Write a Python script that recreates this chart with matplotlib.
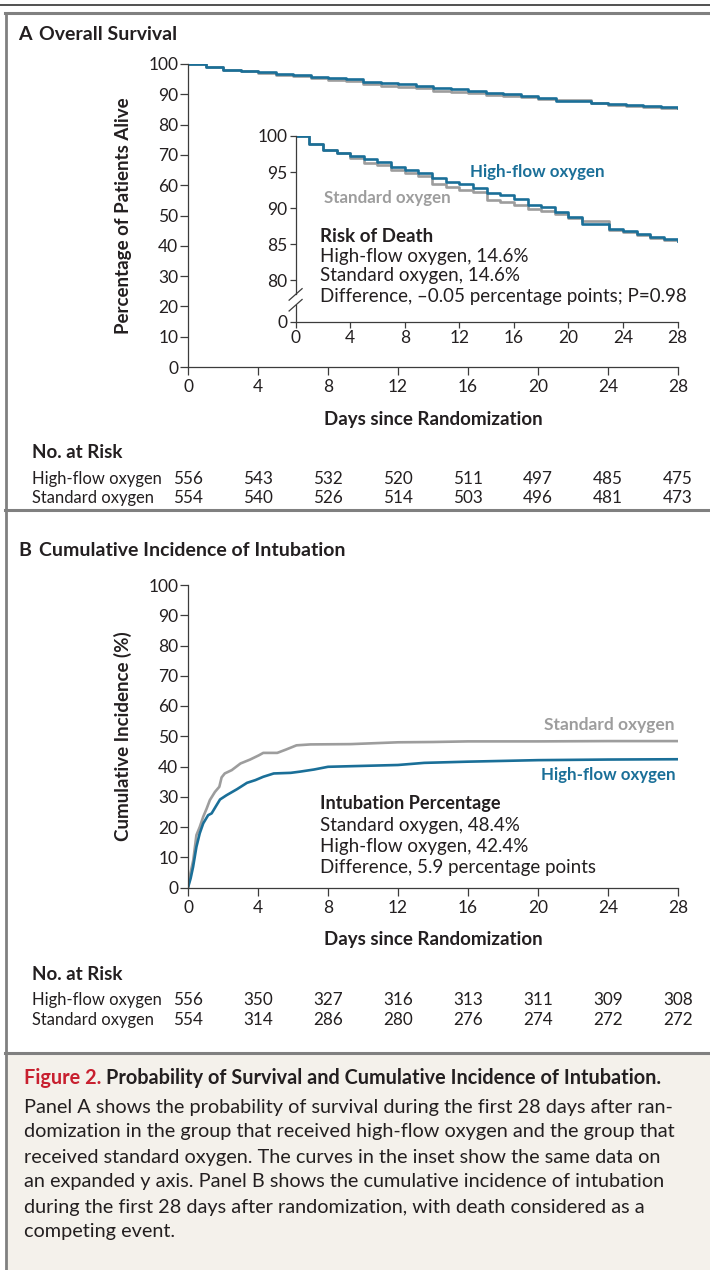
import numpy as np
import matplotlib.pyplot as plt
import matplotlib.transforms as mtransforms
from matplotlib.lines import Line2D
from matplotlib.patches import Rectangle

plt.rcParams['font.family'] = ['Lato', 'DejaVu Sans']

W, H = 710, 1270
BLUE = '#1a6f98'
GRAY = '#9d9d9d'
INK = '#231f20'
AXC = '#3c3c3c'
RED = '#c8202f'
BEIGE = '#f4f1eb'
FRAME = '#808080'

# Panel A: percentage alive, one value per day (step after the day)
days = np.arange(0, 29)
surv_high = [100, 98.9, 98.1, 97.7, 97.2, 96.8, 96.4, 95.7, 95.3, 94.9, 94.2, 93.6, 93.3, 92.8, 92.1,
             91.8, 91.2, 90.4, 90.1, 89.5, 88.8, 87.8, 87.8, 87.1, 86.8, 86.4, 86.0, 85.7, 85.4]
surv_std = [100, 98.9, 98.1, 97.6, 96.9, 96.3, 96.0, 95.3, 94.8, 94.4, 93.3, 92.9, 92.5, 92.2, 91.1,
            90.8, 90.4, 89.9, 89.6, 89.2, 88.6, 88.2, 88.2, 87.0, 86.6, 86.2, 85.8, 85.6, 85.4]

# Panel B: cumulative incidence of intubation (%)
t_std = [0, 0.15, 0.3, 0.48, 0.67, 0.87, 1.06, 1.25, 1.54, 1.79, 1.92, 2.1, 2.5, 3.0, 3.55, 4.05,
         4.3, 5.1, 5.6, 6.2, 7.0, 9.3, 12, 14, 16, 20, 24, 28]
ci_std = [0, 5, 9, 17.3, 20, 23.4, 26, 28.9, 31.6, 33.3, 36.4, 37.7, 38.8, 41, 42.3, 43.7,
          44.5, 44.5, 45.6, 47, 47.3, 47.4, 48.0, 48.1, 48.3, 48.3, 48.4, 48.4]
t_high = [0, 0.15, 0.29, 0.48, 0.67, 0.87, 1.15, 1.35, 1.63, 1.83, 2.2, 2.8, 3.37, 3.85, 4.3,
          4.9, 5.87, 6.4, 7.2, 8.0, 9.3, 12, 13.5, 16, 20, 24, 28]
ci_high = [0, 3, 6.8, 13.4, 17.9, 21.2, 23.9, 24.5, 27.2, 29.1, 30.5, 32.5, 34.6, 35.5, 36.6,
           37.7, 37.9, 38.3, 39.0, 39.9, 40.1, 40.5, 41.2, 41.6, 42.1, 42.3, 42.4]

# Numbers at risk
risk_days = [0, 4, 8, 12, 16, 20, 24, 28]
risk_a_high = [556, 543, 532, 520, 511, 497, 485, 475]
risk_a_std = [554, 540, 526, 514, 503, 496, 481, 473]
risk_b_high = [556, 350, 327, 316, 313, 311, 309, 308]
risk_b_std = [554, 314, 286, 280, 276, 274, 272, 272]
groups = ['High-flow oxygen', 'Standard oxygen']

caption_lines = [
    'Panel A shows the probability of survival during the first 28 days after ran-',
    'domization in the group that received high-flow oxygen and the group that',
    'received standard oxygen. The curves in the inset show the same data on',
    'an expanded y axis. Panel B shows the cumulative incidence of intubation',
    'during the first 28 days after randomization, with death considered as a',
    'competing event.',
]

FS_TICK = 12.5
FS_LAB = 13.5
FS_NOTE = 13.5
FS_SERIES = 12.2
FS_TAB = 11.9
FS_CAP = 14.3


def fx(x):
    return x / W


def fy(y):
    return 1 - y / H


def add_axes_px(fig, left, top, right, bottom):
    return fig.add_axes([fx(left), fy(bottom), (right - left) / W, (bottom - top) / H])


def style_axes(ax):
    for s in ['top', 'right']:
        ax.spines[s].set_visible(False)
    for s in ['left', 'bottom']:
        ax.spines[s].set_color(AXC)
        ax.spines[s].set_linewidth(0.9)
    ax.tick_params(direction='out', length=5.5, width=0.9, color=AXC,
                   labelsize=FS_TICK, labelcolor=INK)
    ax.tick_params(axis='x', pad=3.5)
    ax.tick_params(axis='y', pad=1.5)
    ax.patch.set_alpha(0)


def risk_table(fig, ax, y_head, y_rows, rows):
    tr = mtransforms.blended_transform_factory(ax.transData, fig.transFigure)
    fig.text(fx(32), fy(y_head), 'No. at Risk', fontsize=FS_LAB, fontweight='bold',
             color=INK, va='center')
    for name, vals, yr in zip(groups, rows, y_rows):
        fig.text(fx(32), fy(yr), name, fontsize=FS_TAB, color=INK, va='center')
        for d, v in zip(risk_days, vals):
            ax.text(d, fy(yr), str(v), transform=tr, fontsize=FS_TAB + 0.4, color=INK,
                    ha='center', va='center', clip_on=False)


fig = plt.figure(figsize=(W / 100, H / 100), dpi=100)

# frame
fig.add_artist(Rectangle((fx(6), 0), 1, fy(1054), transform=fig.transFigure,
                         facecolor=BEIGE, edgecolor='none', zorder=0))
fig.add_artist(Line2D([0, 1], [fy(5), fy(5)], color='#333333', lw=1.2))
for yy in [13, 510, 1053]:
    fig.add_artist(Line2D([fx(5), 1], [fy(yy), fy(yy)], color=FRAME, lw=2.2))
fig.add_artist(Line2D([fx(6), fx(6)], [fy(13), 0], color=FRAME, lw=2.0))

# ---------------- Panel A ----------------
fig.text(fx(18), fy(34), 'A', fontsize=14, fontweight='bold', color=INK, va='center')
fig.text(fx(39), fy(34), 'Overall Survival', fontsize=14, fontweight='bold', color=INK, va='center')

axA = add_axes_px(fig, 188, 64, 678, 367)
style_axes(axA)
axA.step(days, surv_std, where='post', color=GRAY, lw=1.9)
axA.step(days, surv_high, where='post', color=BLUE, lw=1.9)
axA.set_xlim(0, 28)
axA.set_ylim(0, 100)
axA.set_xticks(range(0, 29, 4))
axA.set_yticks(range(0, 101, 10))
axA.set_xlabel('Days since Randomization', fontsize=FS_LAB, fontweight='bold', color=INK, labelpad=11)
axA.set_ylabel('Percentage of Patients Alive', fontsize=FS_LAB, fontweight='bold', color=INK, labelpad=12)

# inset with expanded y axis (broken between 0 and 80)
ylo = 74.17
brk_top, brk_bot = 78.0, 76.5
axI = add_axes_px(fig, 295.6, 136, 677.6, 322)
style_axes(axI)
axI.tick_params(length=4.5, pad=1.5)
axI.spines['left'].set_visible(False)
axI.step(days, surv_std, where='post', color=GRAY, lw=1.9)
axI.step(days, surv_high, where='post', color=BLUE, lw=1.9)
axI.set_xlim(0, 28)
axI.set_ylim(ylo, 100)
axI.set_xticks(range(0, 29, 4))
axI.set_yticks([ylo, 80, 85, 90, 95, 100])
axI.set_yticklabels(['0', '80', '85', '90', '95', '100'])
ytr = axI.get_yaxis_transform()
axI.plot([0, 0], [brk_top, 100], color=AXC, lw=0.9, transform=ytr, clip_on=False)
axI.plot([0, 0], [ylo, brk_bot], color=AXC, lw=0.9, transform=ytr, clip_on=False)
for yb in [brk_top, brk_bot]:
    axI.plot([-0.017, 0.017], [yb - 0.8, yb + 0.8], color=AXC, lw=0.9,
             transform=ytr, clip_on=False)

axI.text(12.8, 95.0, 'High-flow oxygen', color=BLUE, fontsize=FS_SERIES, fontweight='bold', va='center')
axI.text(2.1, 91.4, 'Standard oxygen', color=GRAY, fontsize=FS_SERIES, fontweight='bold', va='center')
axI.text(1.8, 86.1, 'Risk of Death', color=INK, fontsize=FS_NOTE, fontweight='bold', va='center')
axI.text(1.8, 83.3, 'High-flow oxygen, 14.6%', color=INK, fontsize=FS_NOTE, va='center')
axI.text(1.8, 80.6, 'Standard oxygen, 14.6%', color=INK, fontsize=FS_NOTE, va='center')
axI.text(1.8, 77.7, 'Difference, \u20130.05 percentage points; P=0.98', color=INK,
         fontsize=FS_NOTE, va='center')

risk_table(fig, axA, 452, [479, 498], [risk_a_high, risk_a_std])

# ---------------- Panel B ----------------
fig.text(fx(18), fy(551), 'B', fontsize=14, fontweight='bold', color=INK, va='center')
fig.text(fx(39), fy(551), 'Cumulative Incidence of Intubation', fontsize=14, fontweight='bold',
         color=INK, va='center')

axB = add_axes_px(fig, 188, 585, 678, 887.5)
style_axes(axB)
axB.plot(t_std, ci_std, color=GRAY, lw=1.9)
axB.plot(t_high, ci_high, color=BLUE, lw=1.9)
axB.set_xlim(0, 28)
axB.set_ylim(0, 100)
axB.set_xticks(range(0, 29, 4))
axB.set_yticks(range(0, 101, 10))
axB.set_xlabel('Days since Randomization', fontsize=FS_LAB, fontweight='bold', color=INK, labelpad=11)
axB.set_ylabel('Cumulative Incidence (%)', fontsize=FS_LAB, fontweight='bold', color=INK, labelpad=12)

axB.text(27.8, 53.6, 'Standard oxygen', color=GRAY, fontsize=FS_SERIES + 0.3, fontweight='bold',
         ha='right', va='center')
axB.text(27.85, 37.1, 'High-flow oxygen', color=BLUE, fontsize=FS_SERIES, fontweight='bold',
         ha='right', va='center')
axB.text(7.54, 27.8, 'Intubation Percentage', color=INK, fontsize=13.1, fontweight='bold', va='center')
axB.text(7.54, 20.5, 'Standard oxygen, 48.4%', color=INK, fontsize=FS_NOTE, va='center')
axB.text(7.54, 13.6, 'High-flow oxygen, 42.4%', color=INK, fontsize=FS_NOTE, va='center')
axB.text(7.54, 6.6, 'Difference, 5.9 percentage points', color=INK, fontsize=FS_NOTE, va='center')

risk_table(fig, axB, 975, [1000, 1020], [risk_b_high, risk_b_std])

# ---------------- Caption ----------------
t1 = fig.text(fx(24), fy(1078), 'Figure 2.', fontsize=FS_CAP, fontweight='bold', color=RED, va='center')
fig.canvas.draw()
bb = t1.get_window_extent()
fig.text(bb.x1 / W + fx(5), fy(1078), 'Probability of Survival and Cumulative Incidence of Intubation.',
         fontsize=FS_CAP, fontweight='bold', color=INK, va='center')
for i, line in enumerate(caption_lines):
    fig.text(fx(24), fy(1107 + i * 25), line, fontsize=FS_CAP, color=INK, va='center')

fig.savefig('out.png', dpi=100)
